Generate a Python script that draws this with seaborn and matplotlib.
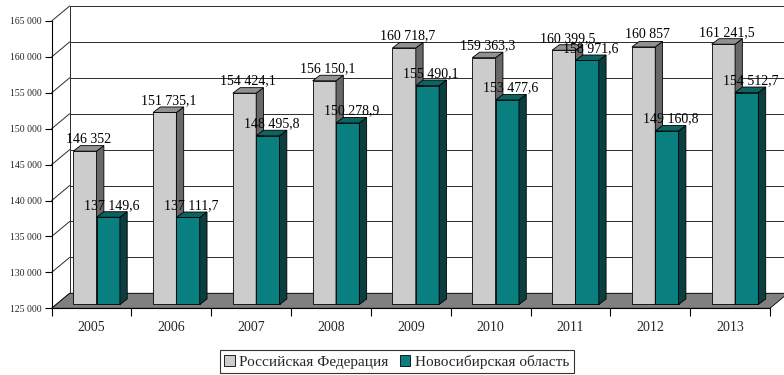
import numpy as np
import pandas as pd
import matplotlib
matplotlib.use("Agg")
import matplotlib.pyplot as plt
from matplotlib.patches import Polygon, Rectangle
import seaborn as sns

# ---- data -------------------------------------------------------------
years = ["2005", "2006", "2007", "2008", "2009", "2010", "2011", "2012", "2013"]
series_names = ["Российская Федерация", "Новосибирская область"]
rf_values = [146352, 151735.1, 154424.1, 156150.1, 160718.7,
             159363.3, 160399.5, 160857, 161241.5]
nso_values = [137149.6, 137111.7, 148495.8, 150278.9, 155490.1,
              153477.6, 158971.6, 149160.8, 154512.7]
y_ticks = list(range(125000, 165001, 5000))

# ---- styling ----------------------------------------------------------
front_colors = ["#cccccc", "#0a7f7f"]
side_colors = ["#686868", "#0b3e3e"]
top_colors = ["#919191", "#0d6262"]
EDGE_LW = 0.6

sns.set_style("white")
plt.rcParams["font.family"] = ["Liberation Serif", "DejaVu Serif"]

YMIN, YMAX = 125000, 165000


def fmt_value(v):
    if float(v).is_integer():
        s = f"{int(v):,}"
    else:
        s = f"{v:,.1f}"
    return s.replace(",", " ").replace(".", ",")


fig = plt.figure(figsize=(7.84, 3.75), dpi=100)
ax = fig.add_axes([0.0659, 0.1779, 0.9162, 0.7661])

df = pd.DataFrame({
    "year": years * 2,
    "region": [series_names[0]] * len(years) + [series_names[1]] * len(years),
    "value": rf_values + nso_values,
})

sns.barplot(data=df, x="year", y="value", hue="region",
            order=years, hue_order=series_names, palette=front_colors,
            saturation=1, width=0.585, errorbar=None, legend=False,
            edgecolor="black", linewidth=EDGE_LW, ax=ax)

ax.set_xlim(-0.5, len(years) - 0.5)
ax.set_ylim(YMIN, YMAX)

# pixel offsets of the pseudo-3D planes converted into data units
bb = ax.get_window_extent()
px_x = bb.width / len(years)
px_y = bb.height / (YMAX - YMIN)


def off(dx, dy):
    return dx / px_x, dy / px_y


shift_x, shift_y = off(5, 3.8)      # bars sit a little behind the front edge
depth_x, depth_y = off(7.3, 5.5)    # bar depth
wall_x, wall_y = off(18, 15)        # back wall depth

x_left, x_right = -0.5, len(years) - 0.5

# back wall gridlines, left-wall diagonals and back-left edge
for v in y_ticks:
    ax.plot([x_left + wall_x, x_right + wall_x + 1], [v + wall_y] * 2,
            color="#2a2a2a", lw=0.7, zorder=1, clip_on=False)
    ax.plot([x_left, x_left + wall_x], [v, v + wall_y],
            color="#2a2a2a", lw=0.7, zorder=1, clip_on=False)
ax.plot([x_left + wall_x] * 2, [YMIN + wall_y, YMAX + wall_y],
        color="#2a2a2a", lw=0.7, zorder=1, clip_on=False)

# floor
ax.add_patch(Polygon([(x_left, YMIN), (x_right, YMIN),
                      (x_right + wall_x, YMIN + wall_y),
                      (x_left + wall_x, YMIN + wall_y)],
                     closed=True, fc="#808080", ec="black", lw=EDGE_LW,
                     zorder=1.5, clip_on=False))

# extrude the seaborn bars into boxes
for k, cont in enumerate(ax.containers):
    z = 3 + k
    for p in cont.patches:
        v = p.get_height()
        w = p.get_width()
        x0 = p.get_x() + shift_x
        y0 = YMIN + shift_y
        y1 = v + shift_y
        p.set_x(x0)
        p.set_y(y0)
        p.set_height(v - YMIN)
        p.set_zorder(z)
        p.set_clip_on(False)
        side = Polygon([(x0 + w, y0), (x0 + w + depth_x, y0 + depth_y),
                        (x0 + w + depth_x, y1 + depth_y), (x0 + w, y1)],
                       closed=True, fc=side_colors[k], ec="black",
                       lw=EDGE_LW, zorder=z, clip_on=False)
        top = Polygon([(x0, y1), (x0 + w, y1),
                       (x0 + w + depth_x, y1 + depth_y),
                       (x0 + depth_x, y1 + depth_y)],
                      closed=True, fc=top_colors[k], ec="black",
                      lw=EDGE_LW, zorder=z, clip_on=False)
        ax.add_patch(side)
        ax.add_patch(top)
        ax.text(x0 + (w + depth_x) / 2, y1 + depth_y, fmt_value(v),
                ha="center", va="bottom", fontsize=10, color="black",
                zorder=10, clip_on=False)

# axes, ticks and labels
for name in ("top", "right"):
    ax.spines[name].set_visible(False)
for name in ("left", "bottom"):
    ax.spines[name].set_color("black")
    ax.spines[name].set_linewidth(0.8)
    ax.spines[name].set_zorder(2)

ax.set_yticks(y_ticks, labels=[f"{v:,}".replace(",", " ") for v in y_ticks])
ax.tick_params(axis="y", left=True, direction="out", length=5, width=0.8,
               color="black", labelsize=7, pad=2)

ax.set_xticks(np.arange(-0.5, len(years), 1.0), labels=[])
ax.set_xticks(np.arange(len(years)), labels=years, minor=True)
ax.tick_params(axis="x", which="major", bottom=True, direction="out",
               length=6, width=0.8, color="black")
ax.tick_params(axis="x", which="minor", bottom=True, length=0, pad=9,
               labelsize=10)
ax.set_xlabel("")
ax.set_ylabel("")
ax.grid(False)

handles = [Rectangle((0, 0), 1, 1, fc=c, ec="black", lw=EDGE_LW)
           for c in front_colors]
leg = fig.legend(handles, series_names, loc="center",
                 bbox_to_anchor=(0.506, 0.035), ncol=2, frameon=True,
                 fancybox=False, edgecolor="black", fontsize=11,
                 handlelength=0.7, handleheight=0.7, handletextpad=0.3,
                 columnspacing=0.7, borderpad=0.3)
leg.get_frame().set_linewidth(0.8)

fig.savefig("out.png", dpi=100)
